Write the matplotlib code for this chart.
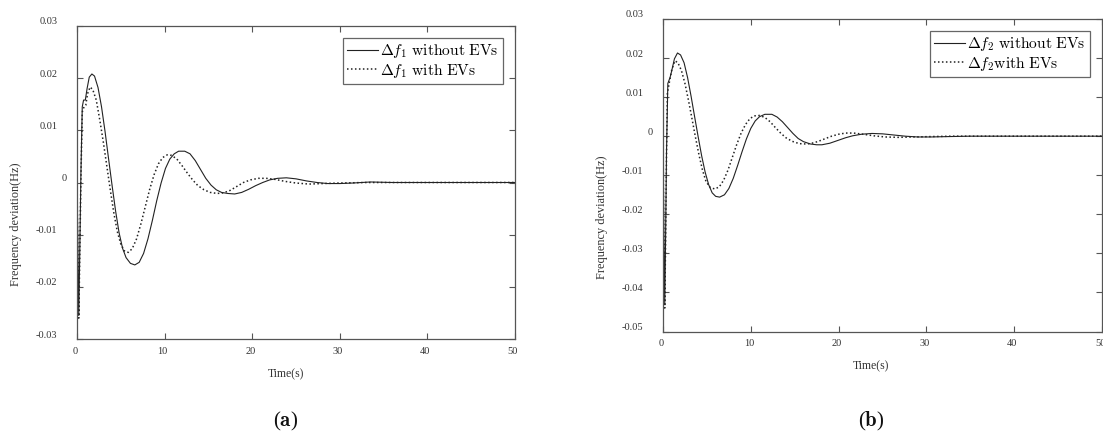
import matplotlib
matplotlib.use("Agg")
import matplotlib.pyplot as plt
from matplotlib.transforms import ScaledTranslation

plt.rcParams["font.family"] = ["Liberation Serif", "DejaVu Serif"]
plt.rcParams["mathtext.fontset"] = "cm"

# ---- data ----
X_TICKS = [0, 10, 20, 30, 40, 50]

# panel (a): area 1
t_a_without = [0, 0.1, 0.2, 0.3, 0.45, 0.6, 0.75, 0.95, 1.15, 1.4, 1.7, 2.0, 2.4, 2.8, 3.2, 3.6,
               4.0, 4.4, 4.8, 5.2, 5.6, 6.1, 6.6, 7.1, 7.6, 8.1, 8.6, 9.1, 9.6, 10.1, 10.6, 11.1,
               11.6, 12.3, 12.9, 13.5, 14.1, 14.7, 15.3, 15.9, 16.5, 17.2, 18.0, 18.8, 19.6, 20.4,
               21.2, 22.0, 22.9, 23.9, 25.0, 26.2, 27.4, 28.6, 30.0, 31.5, 33.5, 36, 40, 50]
f_a_without = [0, -0.012, -0.0255, -0.015, 0.002, 0.0145, 0.0158, 0.0158, 0.0180, 0.0202, 0.0208,
               0.0204, 0.0182, 0.0145, 0.0098, 0.0046, -0.0005, -0.0054, -0.0096, -0.0126, -0.0144,
               -0.0155, -0.0158, -0.0153, -0.0136, -0.0108, -0.0073, -0.0035, -0.0001, 0.0027,
               0.0045, 0.0055, 0.0060, 0.0060, 0.0055, 0.0042, 0.0025, 0.0008, -0.0005, -0.0014,
               -0.0019, -0.0021, -0.0022, -0.0019, -0.0013, -0.0006, 0.0000, 0.0005, 0.0008,
               0.0009, 0.0007, 0.0003, 0.0000, -0.0002, -0.0002, -0.0001, 0.0001, 0.0, 0.0, 0.0]
t_a_with = [0, 0.1, 0.2, 0.3, 0.45, 0.6, 0.8, 1.0, 1.2, 1.5, 1.8, 2.2, 2.6, 3.0, 3.4, 3.8, 4.2,
            4.6, 5.0, 5.4, 5.85, 6.3, 6.8, 7.3, 7.8, 8.3, 8.8, 9.3, 9.8, 10.3, 10.8, 11.4, 12.0,
            12.6, 13.2, 13.8, 14.5, 15.2, 16.0, 16.7, 17.5, 18.3, 19.0, 19.8, 20.7, 21.6, 22.6,
            23.8, 25.0, 26.5, 28.0, 30.0, 33.0, 40, 50]
f_a_with = [0, -0.014, -0.026, -0.016, 0.001, 0.0135, 0.0145, 0.0148, 0.0170, 0.0183, 0.0178,
            0.0158, 0.0120, 0.0078, 0.0032, -0.0014, -0.0058, -0.0094, -0.0118, -0.0131, -0.0134,
            -0.0127, -0.0108, -0.0079, -0.0046, -0.0013, 0.0015, 0.0036, 0.0048, 0.0053, 0.0052,
            0.0045, 0.0032, 0.0018, 0.0005, -0.0006, -0.0014, -0.0019, -0.0021, -0.0020, -0.0015,
            -0.0007, 0.0000, 0.0005, 0.0008, 0.0008, 0.0006, 0.0002, -0.0001, -0.0003, -0.0002,
            -0.0001, 0.0, 0.0, 0.0]
y_ticks_a = [-0.03, -0.02, -0.01, 0, 0.01, 0.02, 0.03]
y_labels_a = ["-0.03", "-0.02", "-0.01", "0", "0.01", "0.02", "0.03"]

# panel (b): area 2
t_b_without = [0, 0.1, 0.2, 0.3, 0.4, 0.55, 0.8, 1.0, 1.3, 1.65, 2.0, 2.4, 2.8, 3.2, 3.6, 4.0,
               4.4, 4.8, 5.2, 5.6, 6.0, 6.45, 7.0, 7.5, 8.0, 8.5, 9.0, 9.5, 10.0, 10.5, 11.0,
               11.6, 12.4, 13.0, 13.6, 14.2, 14.8, 15.4, 16.0, 16.8, 17.5, 18.1, 19.0, 19.9,
               20.8, 21.6, 22.6, 23.8, 25.0, 26.3, 27.6, 29.0, 30.5, 32.5, 35, 40, 50]
f_b_without = [0, -0.025, -0.043, -0.025, -0.004, 0.0135, 0.0150, 0.0168, 0.0198, 0.0213, 0.0208,
               0.0188, 0.0150, 0.0102, 0.0050, -0.0001, -0.0050, -0.0092, -0.0124, -0.0145,
               -0.0154, -0.0156, -0.0150, -0.0134, -0.0108, -0.0075, -0.0040, -0.0007, 0.0020,
               0.0039, 0.0050, 0.0056, 0.0056, 0.0049, 0.0037, 0.0022, 0.0007, -0.0006, -0.0014,
               -0.0020, -0.0022, -0.0022, -0.0018, -0.0011, -0.0004, 0.0001, 0.0005, 0.0007,
               0.0006, 0.0003, 0.0000, -0.0002, -0.0002, -0.0001, 0.0, 0.0, 0.0]
t_b_with = [0, 0.1, 0.2, 0.3, 0.4, 0.5, 0.7, 1.0, 1.36, 1.7, 2.1, 2.5, 2.9, 3.3, 3.7, 4.1, 4.5,
            4.9, 5.4, 5.9, 6.4, 6.9, 7.4, 7.9, 8.4, 8.9, 9.4, 9.9, 10.4, 11.0, 11.6, 12.2, 12.8,
            13.4, 14.0, 14.7, 15.5, 16.3, 16.8, 17.6, 18.4, 19.2, 20.0, 20.8, 21.7, 22.8, 24.0,
            25.3, 26.8, 28.5, 30.5, 33, 40, 50]
f_b_with = [0, -0.026, -0.044, -0.026, -0.005, 0.0110, 0.0135, 0.0170, 0.0193, 0.0188, 0.0168,
            0.0135, 0.0092, 0.0045, -0.0003, -0.0048, -0.0087, -0.0116, -0.0132, -0.0135,
            -0.0130, -0.0113, -0.0087, -0.0054, -0.0021, 0.0008, 0.0030, 0.0045, 0.0052, 0.0053,
            0.0048, 0.0037, 0.0022, 0.0008, -0.0004, -0.0013, -0.0019, -0.0020, -0.0019,
            -0.0014, -0.0007, 0.0000, 0.0005, 0.0008, 0.0008, 0.0005, 0.0001, -0.0002, -0.0003,
            -0.0002, -0.0001, 0.0, 0.0, 0.0]
y_ticks_b = [-0.05, -0.04, -0.03, -0.02, -0.01, 0, 0.01, 0.02, 0.03]
y_labels_b = ["-0.05", "-0.04", "-0.03", "-0.02", "-0.01", "0", "0.01", "0.02", "0.03"]

legend_a = [r"$\Delta f_1\ \mathrm{without\ EVs}$", r"$\Delta f_1\ \mathrm{with\ EVs}$"]
legend_b = [r"$\Delta f_2\ \mathrm{without\ EVs}$", r"$\Delta f_2\mathrm{with\ EVs}$"]

W, H = 1103, 443
INK = "#333333"
SPINE = "#555555"


def plot_panel(fig, box, t1, f1, t2, f2, yticks, ylabels, labels, xlab_x, letter):
    left, top, right, bottom = box
    ax = fig.add_axes([left / W, 1 - bottom / H, (right - left) / W, (bottom - top) / H])
    ax.plot(t1, f1, color="#222222", lw=0.8, label=labels[0])
    ax.plot(t2, f2, color="#222222", lw=1.1, ls=(0, (1, 1.6)), label=labels[1])

    ax.set_xlim(0, 50)
    ax.set_ylim(yticks[0], yticks[-1])
    ax.set_xticks(X_TICKS, [str(x) for x in X_TICKS])
    ax.set_yticks(yticks, ylabels)
    ax.tick_params(direction="in", top=True, right=True, length=4, width=0.8,
                   color=SPINE, labelsize=7.5, labelcolor=INK)
    ax.tick_params(axis="x", pad=5.5)
    ax.tick_params(axis="y", pad=14)
    for s in ax.spines.values():
        s.set_color(SPINE)
        s.set_linewidth(0.9)

    # MATLAB-ish label placement: y labels sit a bit above their ticks
    zero_idx = yticks.index(0)
    for i, lbl in enumerate(ax.get_yticklabels()):
        dx = 9 if i == zero_idx else 0
        lbl.set_transform(lbl.get_transform() + ScaledTranslation(dx / 100, 5 / 100, fig.dpi_scale_trans))
    for lbl in ax.get_xticklabels():
        lbl.set_transform(lbl.get_transform() + ScaledTranslation(-2 / 100, 0, fig.dpi_scale_trans))

    ax.set_xlabel("Time(s)", fontsize=8.5, color=INK)
    ax.xaxis.set_label_coords((xlab_x - left) / (right - left), -35 / (bottom - top))
    ax.xaxis.label.set_va("center")
    ax.set_ylabel("Frequency deviation(Hz)", fontsize=8.8, color=INK)
    ax.yaxis.set_label_coords(-61 / (right - left), 0.367)
    ax.yaxis.label.set_va("center")

    leg = ax.legend(loc="upper right", fontsize=11.2, frameon=True, fancybox=False,
                    edgecolor="#666666", framealpha=1, handlelength=2.0, handletextpad=0.15,
                    borderpad=0.25, labelspacing=0.1, borderaxespad=0.8)
    leg.get_frame().set_linewidth(0.9)

    fig.text(xlab_x / W, 1 - 421 / H, "(" + r"$\mathbf{" + letter + "}$" + ")",
             ha="center", va="center", fontsize=15, color="#111111")
    return ax


def main():
    fig = plt.figure(figsize=(W / 100, H / 100), dpi=100)
    plot_panel(fig, (77, 26, 515, 339), t_a_without, f_a_without, t_a_with, f_a_with,
               y_ticks_a, y_labels_a, legend_a, 286, "a")
    plot_panel(fig, (663, 19, 1102, 331.5), t_b_without, f_b_without, t_b_with, f_b_with,
               y_ticks_b, y_labels_b, legend_b, 871, "b")
    fig.savefig("out.png", dpi=100)
    plt.close(fig)


if __name__ == "__main__":
    main()
